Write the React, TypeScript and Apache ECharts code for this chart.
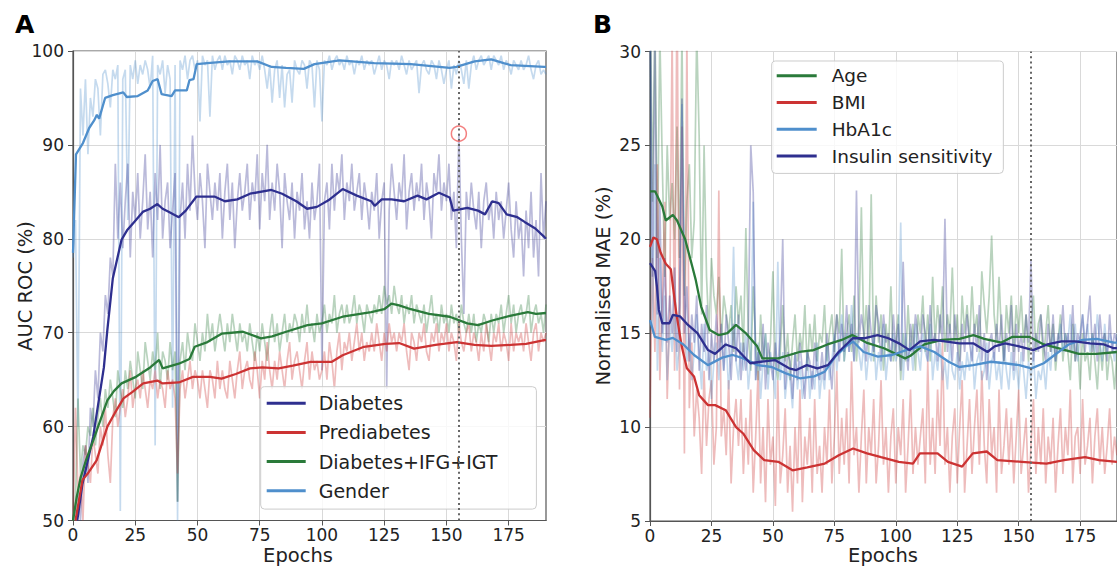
import React, { useEffect, useRef } from "react";
import * as echarts from "echarts";

// ---------- Panel A: AUC ROC (%) per epoch ----------
const xTicks = [0, 25, 50, 75, 100, 125, 150, 175];
const selectedEpoch = 155;
const markerAuc = 91.2;

const genderRaw = [
  78, 82, 60, 96, 91, 97, 89, 95, 93, 97,
  96, 91, 97.5, 98, 96.5, 94, 98, 97, 98.5, 51,
  97, 98, 82, 98.5, 97, 99, 96.5, 98.5, 97.5, 99,
  98, 96, 99.5, 58, 98.5, 97.5, 99, 95.5, 98.5, 97,
  62, 98.5, 50, 99, 98, 99.5, 97, 99, 99.5, 98,
  99, 92.5, 99.5, 98.5, 99, 93, 99.5, 98, 99, 99.5,
  98, 99.5, 98.5, 99, 97.5, 99.5, 99, 98, 99.5, 98.5,
  99, 97, 99.5, 98.5, 99, 98, 99.5, 98, 96, 98.5,
  94.5, 98, 99, 95, 98.5, 94, 97.5, 98, 94.5, 99,
  98, 97.5, 99, 98.5, 96, 99, 98.5, 94, 99, 98,
  92.5, 99, 98.5, 99.5, 98, 99, 99.5, 98.5, 99, 98,
  99.5, 98.5, 99, 97.5, 99, 98.5, 99.5, 98, 99, 98.5,
  99, 97.5, 98.5, 99.5, 98, 99, 98.5, 97, 99, 98.5,
  99, 98, 99.5, 98.5, 97.5, 99, 98, 98.5, 99, 95.5,
  98.5, 99, 98, 97.5, 99, 98.5, 97, 99, 98, 96.5,
  98, 99, 96, 98.5, 97.5, 99, 98, 96.5, 99, 96,
  98.5, 99.5, 98, 99, 99.5, 98.5, 99, 99.5, 98, 99.5,
  99, 98.5, 99.5, 98, 99, 98.5, 97.5, 99, 98.5, 98,
  99, 98, 98.5, 99.5, 98, 97, 98.5, 99, 97.5, 98,
  97.5,
];

const diabetesRaw = [
  50, 51, 53, 50, 56, 58, 54, 62, 60, 66,
  63, 70, 68, 74, 72, 78, 76, 88, 80, 86,
  79, 84, 88, 78, 85, 82, 87, 80, 84, 89,
  81, 85, 78, 87, 82, 90, 80, 84, 86, 79,
  83, 87, 52, 82, 86, 80, 88, 83, 91, 85,
  82, 87, 84, 79, 88, 85, 82, 86, 83, 87,
  80, 85, 88, 82, 86, 79, 84, 87, 83, 85,
  88, 82, 86, 84, 89, 81, 87, 84, 90, 82,
  86, 83, 88, 85, 79, 87, 84, 82, 86, 80,
  85, 83, 87, 81, 84, 80, 86, 82, 84, 88,
  66, 84, 86, 81, 88, 83, 87, 85, 89, 82,
  86, 84, 88, 83, 85, 87, 82, 86, 84, 81,
  85, 83, 87, 80, 84, 86, 64, 83, 88, 85,
  82, 86, 84, 89, 81, 85, 87, 83, 86, 84,
  88, 82, 86, 84, 80, 87, 85, 89, 83, 86,
  84, 88, 82, 85, 79, 91.2, 80, 72, 85, 82,
  86, 83, 81, 85, 79, 84, 86, 82, 84, 80,
  85, 82, 84, 80, 83, 86, 81, 78, 84, 80,
  82, 76, 83, 79, 85, 78, 82, 76, 87, 80,
  84,
];

const ifgIgtRaw = [
  50, 52, 63, 55, 58, 57, 60, 59, 62, 58,
  61, 63, 60, 64, 62, 65, 63, 61, 66, 64,
  62, 66, 64, 67, 65, 63, 68, 66, 64, 69,
  67, 65, 68, 66, 70, 64, 68, 67, 65, 69,
  66, 68, 52, 67, 69, 66, 70, 68, 67, 71,
  69, 67, 70, 68, 72, 69, 71, 68, 70, 72,
  70, 68, 71, 69, 72, 70, 68, 71, 69, 70,
  68, 71, 69, 67, 70, 68, 71, 69, 67, 70,
  72, 69, 71, 68, 70, 72, 69, 71, 70, 72,
  71, 69, 72, 70, 73, 70, 71, 69, 72, 70,
  71, 73, 70, 72, 71, 74, 70, 72, 73, 71,
  73, 71, 72, 74, 71, 73, 72, 70, 73, 72,
  71, 73, 72, 74, 72, 75, 73, 74, 72, 75,
  73, 72, 74, 71, 73, 72, 74, 71, 73, 72,
  71, 73, 70, 72, 74, 71, 72, 70, 73, 71,
  72, 70, 73, 71, 72, 70, 73, 71, 70, 72,
  70, 72, 69, 71, 70, 72, 71, 69, 72, 70,
  72, 71, 73, 70, 72, 74, 71, 73, 70, 72,
  73, 71, 72, 74, 70, 72, 73, 71, 72, 70,
  73,
];

const prediabetesRaw = [
  50, 62, 53, 55, 50, 58, 56, 54, 59, 57,
  55, 60, 58, 62, 57, 54, 61, 63, 60, 62,
  64, 61, 63, 66, 62, 64, 65, 63, 66, 64,
  62, 65, 64, 66, 63, 65, 64, 62, 66, 64,
  65, 63, 55, 64, 66, 63, 65, 67, 64, 66,
  65, 63, 66, 64, 62, 66, 65, 63, 67, 64,
  66, 64, 63, 67, 65, 63, 66, 68, 64, 66,
  67, 65, 64, 68, 66, 63, 67, 65, 69, 66,
  64, 67, 65, 68, 66, 64, 67, 69, 65, 67,
  68, 66, 64, 67, 69, 65, 68, 66, 67, 65,
  66, 68, 65, 69, 67, 64, 68, 70, 66, 69,
  68, 70, 67, 69, 71, 68, 70, 67, 69, 68,
  70, 68, 71, 69, 67, 70, 68, 71, 69, 70,
  68, 70, 69, 71, 68, 66, 70, 69, 67, 70,
  69, 71, 68, 67, 70, 69, 71, 68, 70, 69,
  71, 68, 70, 69, 67, 71, 69, 68, 70, 71,
  68, 70, 69, 67, 70, 68, 71, 69, 67, 70,
  69, 71, 68, 70, 69, 67, 71, 68, 70, 69,
  70, 68, 71, 69, 67, 70, 71, 68, 70, 69,
  70,
];

const diabetesSmooth = [
  [1.7, 50], [3.8, 53.9], [8.1, 58.9], [12.4, 66.3], [13.8, 70.3], [16, 75.8], [19.5, 79.9],
  [21.7, 80.9], [24.6, 81.8], [28.2, 82.9], [31, 83.2], [33.9, 83.7], [36, 83.2], [38.2, 82.9],
  [42.5, 82.3], [45.3, 83.0], [49.6, 84.5], [56.8, 84.5], [61, 84.0], [66, 84.2], [71.1, 84.8],
  [79.7, 85.2], [84, 84.8], [89.7, 84.0], [94, 83.2], [98, 83.4], [102.6, 84.1], [108.3, 85.3],
  [114, 84.6], [119.8, 84.0], [121.2, 83.5], [124, 84.2], [128, 84.2], [133, 84.0], [138.4, 84.6],
  [142, 84.2], [147, 84.9], [151.3, 84.4], [152.7, 83.0], [158.4, 83.3], [162.7, 83.0],
  [165.5, 82.6], [168.4, 84.0], [171, 83.8], [174.2, 82.6], [178.5, 82.3], [181.4, 81.8],
  [185.7, 81.1], [189.3, 80.2], [190, 80.0],
];

const prediabetesSmooth = [
  [1, 50], [3.8, 54.3], [5.9, 55.0], [9.5, 56.4], [13.8, 60.0], [16.7, 61.4], [20.3, 63.0],
  [23.9, 63.7], [28.2, 64.6], [33.9, 64.9], [36, 64.6], [42.5, 64.7], [48.2, 65.3], [55, 65.3],
  [59.7, 65.1], [65.4, 65.6], [71.1, 66.2], [76, 66.3], [82.6, 66.2], [88.3, 66.5], [95.4, 66.9],
  [104, 66.9], [108.3, 67.6], [116.9, 68.5], [125.5, 68.8], [131, 68.9], [137, 68.3],
  [145.6, 68.7], [154.2, 69.0], [161.3, 68.7], [168, 68.6], [175.8, 68.7], [182, 68.8],
  [189.3, 69.2], [190, 69.2],
];

const ifgIgtSmooth = [
  [0, 50], [1.5, 52.5], [3.1, 54.6], [5.2, 56.4], [8.1, 58.5], [11, 60.7], [13.8, 62.8],
  [16.5, 63.8], [19.5, 64.6], [25.3, 65.3], [31, 66.3], [34.6, 67.1], [36, 66.2], [42.5, 66.7],
  [46.8, 67.2], [48.9, 68.5], [54, 69.0], [59.7, 69.9], [68.3, 70.1], [75.5, 69.4], [80, 69.6],
  [85.6, 70.1], [94.2, 70.8], [100, 71.0], [108.3, 71.7], [119.8, 72.2], [125, 72.5],
  [127.9, 73.1], [131, 72.9], [135.7, 72.5], [143, 72.0], [151.3, 71.7], [158.4, 71.0],
  [162.7, 70.8], [168.4, 71.3], [175.5, 71.8], [182.7, 72.2], [186, 72.0], [190, 72.1],
];

const genderSmooth = [
  [0, 78.5], [1.2, 89], [4, 90.2], [6.5, 91.8], [8.5, 92.6], [9.6, 93.2], [10.5, 92.8],
  [12.9, 95.0], [16, 95.3], [20.2, 95.6], [21.6, 95.1], [26, 95.2], [30, 95.8], [32, 96.8],
  [34, 97.0], [35.6, 95.4], [39.6, 95.2], [41, 95.8], [45.7, 95.8], [46.8, 96.9], [48.4, 97.0],
  [49.7, 98.6], [54, 98.7], [62.5, 98.9], [74, 98.9], [79.8, 98.3], [85.6, 98.2], [92.7, 98.1],
  [97, 98.6], [107, 99.0], [121, 98.7], [135.7, 98.6], [144, 98.4], [151.3, 98.2], [154, 98.3],
  [161.3, 98.9], [168, 99.1], [173, 98.7], [175.8, 98.5], [189.3, 98.3], [190, 98.3],
];

// ---------- Panel B: Normalised MAE (%) per epoch ----------
const ageRaw = [
  35, 22, 32, 19, 31, 24, 18, 25, 21, 23,
  20, 26, 19, 31, 17, 22, 24, 19, 21, 31,
  25.5, 16, 25, 18, 15, 19, 17, 16, 18, 14.5,
  17, 16, 15, 16.5, 14, 17.5, 15.5, 17, 14, 20.6,
  15, 13, 17.5, 14.5, 12.5, 16, 13.5, 15, 12.8, 14.5,
  18.3, 13.5, 12.5, 14, 16.5, 13.5, 15, 12.5, 14.5, 16,
  13.5, 15, 14, 16.5, 13, 15.5, 14, 16, 13.5, 15,
  14.5, 16.5, 13.5, 15, 16, 14, 16, 15, 19.5, 13.5,
  15, 16, 14, 17, 13.5, 15.5, 21.7, 14.5, 16.5, 14,
  22.4, 13.5, 17, 14.5, 16, 13, 15.5, 14, 17.5, 13.5,
  14.5, 16, 12.5, 15, 13.5, 16.5, 14, 15.5, 13, 16,
  15, 17, 14, 16, 13.5, 18, 14.5, 16.5, 15, 17.5,
  14, 16, 15, 18.5, 14.5, 16, 13.5, 17, 15, 16.5,
  14.5, 17.5, 15, 16, 14, 18.3, 16.5, 15, 17, 20.2,
  16, 14.5, 18, 15, 13.5, 16.5, 15, 17, 14, 16.5,
  15, 17, 14.5, 16, 13.5, 15.5, 17, 14, 15.5, 16,
  13.5, 15, 16.5, 14, 15.5, 13, 14.5, 16, 13.5, 15,
  14, 12.5, 15.5, 13.5, 14.5, 12, 15, 13.5, 14, 12.5,
  15, 13.5, 12, 14.5, 13, 15, 12.5, 14, 13.5, 12,
  14,
];

const bmiRaw = [
  10.5, 19, 14, 24, 12.5, 17, 22, 11.5, 16, 31,
  13, 34, 12, 26, 8.6, 31, 11, 14.5, 9.5, 12,
  10.5, 7.5, 13, 9, 11.5, 12.5, 8, 10, 22.6, 9.5,
  11, 8.5, 12.5, 7, 10, 11.5, 9, 11.5, 7.5, 10.5,
  8, 12, 6.5, 9.5, 13, 7, 10, 6, 11.5, 8,
  9.5, 5.8, 12.5, 7, 8.5, 11, 6.5, 9, 5.5, 10,
  7, 12, 6, 9.5, 8, 10.5, 6.5, 11.5, 7.5, 9,
  6.5, 10, 8, 12, 7, 9.5, 13, 7.5, 10.5, 8,
  11, 7, 13.5, 8.5, 10, 6.5, 9.5, 12, 7, 10,
  8.5, 11.5, 7, 9, 12.5, 8, 10, 6.5, 9.5, 11,
  7, 10, 8.5, 11.5, 6.5, 9, 12, 7.5, 10, 8,
  9.5, 11, 7, 13.5, 8, 10.5, 7.5, 12, 9, 14.5,
  8, 10, 6.5, 9.5, 11, 7, 10, 12.5, 6.5, 9,
  11.5, 7.5, 10, 12, 8, 13, 9, 7, 11.5, 8.5,
  10, 6.5, 12, 7.5, 9, 11, 8, 10.5, 7, 9.5,
  12, 7.5, 9, 10.5, 6.5, 9, 11.5, 7.5, 10, 8,
  11, 7, 9.5, 8, 10.5, 6.5, 9, 11, 7.5, 10,
  8.5, 12, 7, 9.5, 10, 7.5, 11.5, 8, 9, 10.5,
  7, 9.5, 11, 8, 10, 7.5, 9, 11, 8, 9.5,
  8.5,
];

const hba1cRaw = [
  32, 15, 24, 13, 19, 14, 17, 12.5, 15.5, 14,
  16, 13, 14.5, 27.2, 18, 13.5, 15, 12.5, 14, 16,
  14, 12, 15.5, 13, 14, 11.5, 13.5, 14.5, 12.5, 15,
  13, 14.5, 12, 14, 19.6, 13.5, 12.5, 14.5, 13, 15,
  12, 13.5, 22, 12.5, 14.5, 11.5, 13.5, 15, 12, 14,
  13, 11.5, 18.8, 12.5, 14, 11.5, 13, 12.5, 11, 14,
  12, 13.5, 11.5, 12.5, 14, 11.5, 13, 12, 14.5, 11.5,
  13, 12, 14.5, 12.5, 13.5, 15, 13, 14.5, 16, 13.5,
  15, 14, 16.5, 13.5, 15, 14, 13, 14.5, 12.5, 14,
  13.5, 15, 12.5, 14, 13, 15.5, 12.5, 14, 13.5, 15,
  13.5, 14, 20.9, 12.5, 15, 13.5, 14.5, 13, 15.5, 14,
  13, 15, 14, 13.5, 15.5, 12.5, 14, 13, 14.5, 12.5,
  13.5, 12, 14.5, 13, 12.5, 14, 12, 13.5, 12.5, 14,
  13, 14.5, 12, 13.5, 14, 12.5, 13, 14.5, 12, 13.5,
  14, 12.5, 13.5, 12, 14.5, 13, 12, 14, 12.5, 13.5,
  12, 14, 13, 11.5, 13.5, 12.5, 14, 11.5, 13, 12.5,
  13.5, 12, 14, 13, 15, 13.5, 14.5, 15.5, 14, 15,
  14.5, 16, 14, 15.5, 13.5, 15, 16, 14.5, 15.5, 14,
  15, 14, 16, 14.5, 13.5, 15.5, 14, 15, 14.5, 13.5,
  15,
];

const insulinRaw = [
  34, 18, 31, 16, 22, 15, 19, 14.5, 17, 15,
  18.5, 14, 16.5, 27.5, 15, 17.5, 13.5, 16, 14.5, 17,
  13, 15.5, 14, 16.5, 12.5, 15, 13.5, 16, 14, 15.5,
  13, 16, 14.5, 12.5, 15.5, 13.5, 16, 12.5, 14.5, 13,
  15, 25, 22.5, 12.5, 14, 13, 15.5, 12, 14.5, 13.5,
  12.5, 14.5, 13, 15, 20, 12, 14, 13.5, 11.5, 14,
  12.5, 14.5, 13, 11.5, 14, 13.5, 12, 14.5, 13, 12.5,
  14, 12.5, 15, 13.5, 12, 14.5, 16, 13.5, 15.5, 14,
  16.5, 14, 15.5, 13.5, 22.6, 14.5, 16, 15, 13.5, 16.5,
  15, 14, 16.5, 15.5, 13.5, 16, 14.5, 15, 13.5, 16,
  14, 15.5, 13, 18.8, 14.5, 13, 15.5, 14, 16, 15,
  14, 16, 15, 13.5, 16.5, 14.5, 15, 13.5, 16, 14.5,
  21.1, 14, 15.5, 13.5, 16, 14.5, 13, 15.5, 14, 16,
  14.5, 13.5, 15.5, 14, 16.5, 13.5, 15, 12.5, 14.5, 15,
  13.5, 15.5, 14, 16, 13.5, 15, 14, 16.5, 13, 15.5,
  14, 15, 13.5, 16, 14.5, 18.9, 13.5, 15, 14, 16,
  14.5, 13.5, 15.5, 14, 16, 13.5, 15, 14.5, 16.5, 14,
  15, 14, 16.5, 13.5, 15, 14.5, 16, 14, 15.5, 17,
  14, 15.5, 13.5, 16, 14.5, 15, 13.5, 16, 14, 15,
  14.5,
];

const ageSmooth = [
  [0, 22.55], [2.1, 22.55], [5, 21.75], [6.4, 21.0], [9.3, 21.3], [11, 21.0], [14.3, 20.0],
  [17.2, 18.55], [18.6, 17.84], [20.8, 16.42], [24.3, 15.17], [27.9, 14.9], [31.5, 15.0],
  [35, 15.44], [39.3, 14.96], [43.6, 14.3], [45.7, 13.66], [52.1, 13.66], [60.8, 14.0],
  [66.5, 14.1], [72.2, 14.4], [78, 14.64], [82.3, 14.9], [88, 14.5], [95.2, 14.2],
  [103.8, 13.66], [106, 13.8], [111.6, 14.4], [118.7, 14.64], [125.9, 14.7], [131.6, 14.9],
  [136, 14.7], [143, 14.5], [147.3, 14.8], [154.5, 14.8], [160.2, 14.4], [166, 14.2],
  [174.5, 13.9], [181.7, 13.9], [190, 14.0],
];

const bmiSmooth = [
  [0, 19.6], [1.4, 20.1], [2.8, 20.0], [4.3, 19.3], [6.4, 18.7], [8.5, 18.4], [9, 17.84],
  [10.7, 16.07], [12.9, 14.3], [15, 13.13], [17.9, 12.7], [20, 11.7], [23.6, 11.17],
  [26.5, 11.17], [30.8, 10.9], [35, 10.0], [37.9, 9.66], [42.2, 8.77], [46.5, 8.24],
  [52.2, 8.15], [58, 7.7], [64, 7.85], [71.1, 8.06], [76.8, 8.5], [82.6, 8.86], [88.3, 8.6],
  [94, 8.4], [101.2, 8.15], [107, 8.06], [109.8, 8.6], [117, 8.6], [121.2, 8.15], [127, 7.9],
  [131.3, 8.6], [137, 8.7], [141.3, 8.24], [151.3, 8.15], [161.3, 8.06], [168.4, 8.24],
  [177, 8.4], [182.7, 8.24], [190, 8.15],
];

const hba1cSmooth = [
  [0, 15.7], [2, 14.8], [6.4, 14.65], [9.3, 14.75], [13.6, 14.4], [17.9, 13.84], [23.6, 13.3],
  [29.4, 13.7], [33.7, 13.84], [38, 13.66], [43.8, 13.3], [49.5, 13.2], [55.3, 12.86],
  [61, 12.6], [66.8, 12.7], [71.1, 12.95], [75.4, 13.75], [79.7, 14.3], [82.6, 14.56],
  [86.9, 14.0], [92.7, 13.75], [98.5, 13.84], [104.2, 14.1], [110, 14.3], [115.7, 14.0],
  [121.5, 13.48], [125.8, 13.2], [131.5, 13.3], [138.7, 13.48], [144.5, 13.4], [150.2, 13.3],
  [155.2, 13.13], [160.2, 13.4], [164.6, 13.84], [170.3, 14.4], [176, 14.65], [181.8, 14.7],
  [188.7, 14.5], [190, 14.5],
];

const insulinSmooth = [
  [0, 18.73], [2.1, 18.3], [2.8, 17.5], [3.6, 16.24], [5, 15.53], [7.9, 15.53], [9.3, 15.97],
  [12.2, 15.9], [15, 15.5], [19.3, 15.0], [23.6, 14.1], [26.5, 13.9], [30.8, 14.4], [35, 14.2],
  [40.8, 13.4], [45.1, 13.48], [50.8, 13.57], [56.6, 13.13], [59.5, 13.04], [63.8, 13.3],
  [68.1, 13.13], [72.4, 13.3], [76.7, 14.0], [82.5, 14.73], [87, 14.73], [92.6, 14.9],
  [97, 14.73], [101.3, 14.46], [105.6, 14.1], [109.9, 14.56], [115.6, 14.64], [120, 14.56],
  [125.8, 14.46], [131.5, 14.46], [137.3, 14.0], [140.2, 14.3], [144.5, 14.46], [150.2, 14.3],
  [155.9, 14.1], [161.6, 14.4], [167.4, 14.56], [173, 14.56], [179, 14.46], [184.7, 14.4],
  [188.7, 14.2], [190, 14.2],
];

const legendA = ["Diabetes", "Prediabetes", "Diabetes+IFG+IGT", "Gender"];
const legendB = ["Age", "BMI", "HbA1c", "Insulin sensitivity"];

const NAVY = "#2e2f8f";
const RED = "#cc3333";
const GREEN = "#2a7a3a";
const BLUE = "#4f8fcc";
const FONT = "DejaVu Sans";

const toPairs = (arr: number[]) => arr.map((v, i) => [i, v]);

function rawSeries(name: string, data: number[], color: string, idx: number) {
  return {
    name,
    type: "line",
    xAxisIndex: idx,
    yAxisIndex: idx,
    data: toPairs(data),
    showSymbol: false,
    symbol: "none",
    silent: true,
    clip: true,
    lineStyle: { color, width: 1.7, opacity: 0.33 },
    itemStyle: { color },
    z: 2,
  };
}

function smoothSeries(name: string, data: number[][], color: string, idx: number, extra: any = {}) {
  return {
    name,
    type: "line",
    xAxisIndex: idx,
    yAxisIndex: idx,
    data,
    showSymbol: false,
    symbol: "none",
    silent: true,
    clip: true,
    lineStyle: { color, width: 2.3 },
    itemStyle: { color },
    z: 3,
    ...extra,
  };
}

const dottedMark = {
  silent: true,
  symbol: ["none", "none"],
  label: { show: false },
  lineStyle: { color: "#666", type: [2, 3.2], width: 2 },
  data: [{ xAxis: selectedEpoch }],
};

function xAxisCfg(idx: number) {
  return {
    gridIndex: idx,
    type: "value",
    min: 0,
    max: 190,
    interval: 25,
    axisLine: { show: true, lineStyle: { color: "#555", width: 1.2 } },
    axisTick: { show: true, length: 5, lineStyle: { color: "#555" }, customValues: xTicks },
    axisLabel: {
      fontSize: 17,
      color: "#222",
      margin: 6,
      fontFamily: FONT,
      customValues: xTicks,
    },
    splitLine: { show: true, lineStyle: { color: "#d9d9d9", width: 1 } },
  };
}

function yAxisCfg(idx: number, min: number, max: number, interval: number) {
  return {
    gridIndex: idx,
    type: "value",
    min,
    max,
    interval,
    axisLine: { show: true, lineStyle: { color: "#555", width: 1.2 } },
    axisTick: { show: true, length: 5, lineStyle: { color: "#555" } },
    axisLabel: { fontSize: 17, color: "#222", margin: 9, fontFamily: FONT },
    splitLine: { show: true, lineStyle: { color: "#d9d9d9", width: 1 } },
  };
}

export default function App() {
  const ref = useRef<HTMLDivElement>(null);

  useEffect(() => {
    if (!ref.current) return;
    const chart = echarts.init(ref.current, null, { renderer: "svg" });
    const legendCommon = {
      orient: "vertical",
      icon: "rect",
      itemHeight: 3,
      backgroundColor: "rgba(255,255,255,0.8)",
      borderColor: "#cccccc",
      borderWidth: 1,
      borderRadius: 4,
      selectedMode: false,
    };
    chart.setOption({
      animation: false,
      backgroundColor: "#ffffff",
      textStyle: { fontFamily: FONT },
      grid: [
        { left: 73, top: 51, width: 473, height: 469.5, show: true, borderColor: "#555", borderWidth: 1.2, backgroundColor: "transparent" },
        { left: 650, top: 51.5, width: 471, height: 469.5, show: true, borderColor: "#555", borderWidth: 1.2, backgroundColor: "transparent" },
      ],
      xAxis: [xAxisCfg(0), xAxisCfg(1)],
      yAxis: [yAxisCfg(0, 50, 100, 10), yAxisCfg(1, 5, 30, 5)],
      legend: [
        {
          ...legendCommon,
          data: legendA,
          left: 260.7,
          top: 386.7,
          padding: [5.5, 39, 7.3, 6],
          itemGap: 7.2,
          itemWidth: 39,
          textStyle: { fontSize: 19, color: "#222", fontFamily: FONT, lineHeight: 22, padding: [0, 0, 0, 8] },
        },
        {
          ...legendCommon,
          data: legendB,
          left: 771.7,
          top: 61,
          padding: [3.7, 11, 6.3, 5],
          itemGap: 4.8,
          itemWidth: 40,
          textStyle: { fontSize: 18.5, color: "#222", fontFamily: FONT, lineHeight: 22, padding: [0, 0, 0, 10] },
        },
      ],
      graphic: [
        { type: "text", x: 15, y: 24, style: { text: "A", font: `bold 25px '${FONT}'`, fill: "#000", textAlign: "left", textVerticalAlign: "middle" } },
        { type: "text", x: 593, y: 24, style: { text: "B", font: `bold 25px '${FONT}'`, fill: "#000", textAlign: "left", textVerticalAlign: "middle" } },
        { type: "text", x: 25, y: 286, rotation: Math.PI / 2, style: { text: "AUC ROC (%)", font: `19.5px '${FONT}'`, fill: "#222", textAlign: "center", textVerticalAlign: "middle" } },
        { type: "text", x: 603, y: 286, rotation: Math.PI / 2, style: { text: "Normalised MAE (%)", font: `19.5px '${FONT}'`, fill: "#222", textAlign: "center", textVerticalAlign: "middle" } },
        { type: "text", x: 298, y: 555, style: { text: "Epochs", font: `19.5px '${FONT}'`, fill: "#222", textAlign: "center", textVerticalAlign: "middle" } },
        { type: "text", x: 883, y: 555, style: { text: "Epochs", font: `19.5px '${FONT}'`, fill: "#222", textAlign: "center", textVerticalAlign: "middle" } },
      ],
      series: [
        rawSeries("Gender raw", genderRaw, BLUE, 0),
        rawSeries("Diabetes raw", diabetesRaw, NAVY, 0),
        rawSeries("Diabetes+IFG+IGT raw", ifgIgtRaw, GREEN, 0),
        rawSeries("Prediabetes raw", prediabetesRaw, RED, 0),
        smoothSeries("Diabetes", diabetesSmooth, NAVY, 0, { markLine: dottedMark }),
        smoothSeries("Prediabetes", prediabetesSmooth, RED, 0),
        smoothSeries("Diabetes+IFG+IGT", ifgIgtSmooth, GREEN, 0),
        smoothSeries("Gender", genderSmooth, BLUE, 0),
        {
          name: "Selected epoch",
          type: "scatter",
          xAxisIndex: 0,
          yAxisIndex: 0,
          data: [[selectedEpoch, markerAuc]],
          symbol: "circle",
          symbolSize: 15,
          silent: true,
          itemStyle: { color: "rgba(0,0,0,0)", borderColor: "#f06060", borderWidth: 1.5 },
          z: 5,
        },
        rawSeries("Age raw", ageRaw, GREEN, 1),
        rawSeries("BMI raw", bmiRaw, RED, 1),
        rawSeries("HbA1c raw", hba1cRaw, BLUE, 1),
        rawSeries("Insulin sensitivity raw", insulinRaw, NAVY, 1),
        smoothSeries("Age", ageSmooth, GREEN, 1, { markLine: dottedMark }),
        smoothSeries("BMI", bmiSmooth, RED, 1),
        smoothSeries("HbA1c", hba1cSmooth, BLUE, 1),
        smoothSeries("Insulin sensitivity", insulinSmooth, NAVY, 1),
      ],
    });
    return () => chart.dispose();
  }, []);

  return (
    <div
      ref={ref}
      style={{ position: "fixed", left: 0, top: 0, width: 1117, height: 566, background: "#fff" }}
    />
  );
}
